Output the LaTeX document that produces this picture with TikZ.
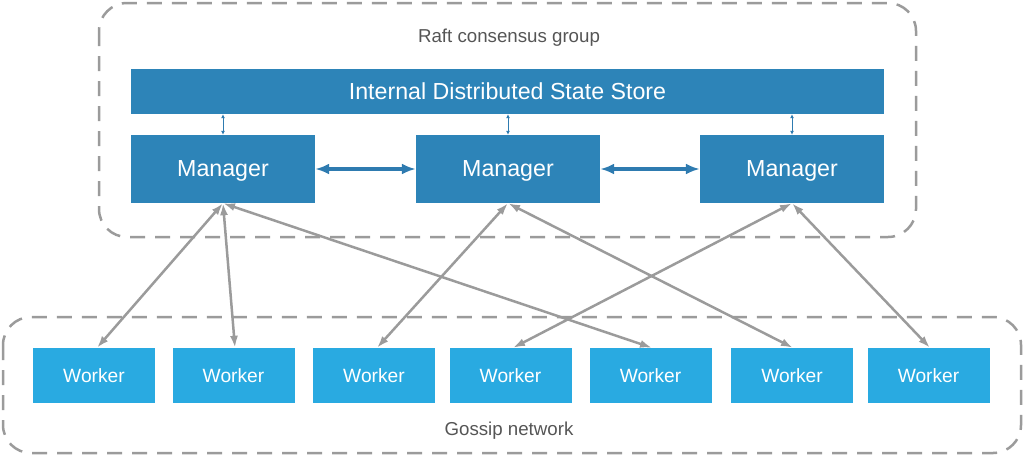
\documentclass[tikz,border=0pt]{standalone}
\usepackage{fontspec}
\setmainfont{Liberation Sans}
\usetikzlibrary{arrows.meta}
\definecolor{mgr}{HTML}{2D84B8}
\definecolor{wrk}{HTML}{29AAE1}
\definecolor{gline}{HTML}{9B9B9B}
\definecolor{labc}{HTML}{555555}
\definecolor{blink}{HTML}{2E7BB0}
\tikzset{
  mgrbox/.style={fill=mgr, draw=none, minimum width=184pt, minimum height=68pt, inner sep=0pt, text depth=0pt, text=white, font=\fontsize{23.2}{27}\selectfont},
  storebox/.style={fill=mgr, draw=none, minimum width=753pt, minimum height=45pt, inner sep=0pt, text depth=0pt, text=white, font=\fontsize{23.2}{27}\selectfont},
  wrkbox/.style={fill=wrk, draw=none, minimum width=122pt, minimum height=55pt, inner sep=0pt, text depth=0pt, text=white, font=\fontsize{19.2}{23}\selectfont},
  groupbox/.style={draw=gline, line width=2.5pt, dash pattern=on 15pt off 10pt, rounded corners=28pt},
  grouplabel/.style={text=labc, font=\fontsize{18.7}{22}\selectfont, inner sep=0pt, text depth=0pt},
  gossiparrow/.style={draw=gline, line width=2.5pt, {Latex[length=12pt,width=8pt]}-{Latex[length=12pt,width=8pt]}},
  peerarrow/.style={draw=blink, line width=3.5pt, {Latex[length=14pt,width=11pt]}-{Latex[length=14pt,width=11pt]}},
  storearrow/.style={draw=blink, line width=1pt, {Latex[length=4pt,width=4pt]}-{Latex[length=4pt,width=4pt]}},
}
\begin{document}
\begin{tikzpicture}[x=1pt,y=-1pt]
\useasboundingbox (0,0) rectangle (1024,456);
% group boxes
\draw[groupbox] (99,3) rectangle (916,237);
\draw[groupbox] (3,317) rectangle (1021,453);
\node[grouplabel] (raft) at (509,35.5) {Raft consensus group};
\node[grouplabel] (gossip) at (509,429) {Gossip network};
% store and managers
\node[storebox] (store) at (507.5,91.5) {Internal Distributed State Store};
\node[mgrbox] (m1) at (223,169) {Manager};
\node[mgrbox] (m2) at (508,169) {Manager};
\node[mgrbox] (m3) at (792,169) {Manager};
% workers
\node[wrkbox] (w1) at (94,375.5) {Worker};
\node[wrkbox] (w2) at (233.5,375.5) {Worker};
\node[wrkbox] (w3) at (374,375.5) {Worker};
\node[wrkbox] (w4) at (510.5,375.5) {Worker};
\node[wrkbox] (w5) at (650.5,375.5) {Worker};
\node[wrkbox] (w6) at (792,375.5) {Worker};
\node[wrkbox] (w7) at (928.5,375.5) {Worker};
% store links
\draw[storearrow] (store.south -| m1.north) -- (m1.north);
\draw[storearrow] (store.south -| m2.north) -- (m2.north);
\draw[storearrow] (store.south -| m3.north) -- (m3.north);
% peer links
\draw[peerarrow] (m1.east) -- (m2.west);
\draw[peerarrow] (m2.east) -- (m3.west);
% gossip links
\coordinate (m1b) at (m1.south);
\coordinate (m2b) at (m2.south);
\coordinate (m3b) at (m3.south);
\draw[gossiparrow] (m1b) -- ([xshift=3pt]w1.north);
\draw[gossiparrow] (m1b) -- ([xshift=1.5pt]w2.north);
\draw[gossiparrow] (m1b) -- ([xshift=1.5pt]w5.north);
\draw[gossiparrow] (m2b) -- ([xshift=3pt]w3.north);
\draw[gossiparrow] (m2b) -- ([xshift=1pt]w6.north);
\draw[gossiparrow] (m3b) -- ([xshift=2.5pt]w4.north);
\draw[gossiparrow] (m3b) -- ([xshift=1.5pt]w7.north);
\end{tikzpicture}
\end{document}
